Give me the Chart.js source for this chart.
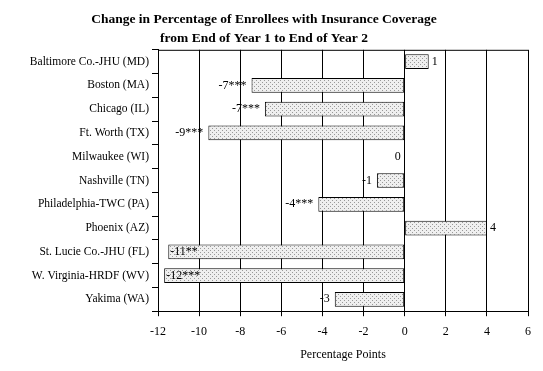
<!DOCTYPE html>
<html><head><meta charset="utf-8">
<script src="https://cdn.jsdelivr.net/npm/chart.js@4"></script>
<style>html,body{margin:0;padding:0;background:#fff}#wrap{width:543px;height:371px}</style>
</head><body><div id="wrap"><canvas id="c" width="543" height="371"></canvas></div>
<script>
const categories = ["Baltimore Co.-JHU (MD)","Boston (MA)","Chicago (IL)","Ft. Worth (TX)","Milwaukee (WI)","Nashville (TN)","Philadelphia-TWC (PA)","Phoenix (AZ)","St. Lucie Co.-JHU (FL)","W. Virginia-HRDF (WV)","Yakima (WA)"];
const values = [1.17, -7.45, -6.8, -9.55, 0, -1.35, -4.2, 4.0, -11.5, -11.7, -3.4];
const valueLabels = ["1","-7***","-7***","-9***","0","-1","-4***","4","-11**","-12***","-3"];
const xTicks = [-12,-10,-8,-6,-4,-2,0,2,4,6];

const FONT = "'Liberation Serif', 'Times New Roman', serif";
const pc = document.createElement('canvas'); pc.width = 4; pc.height = 4;
const pctx = pc.getContext('2d');
pctx.fillStyle = '#efefef'; pctx.fillRect(0,0,4,4);
pctx.fillStyle = '#999999'; pctx.fillRect(0,0,1,1); pctx.fillRect(2,2,1,1);
const pattern = document.getElementById('c').getContext('2d').createPattern(pc,'repeat');

const labelPlugin = {
  id:'valLabels',
  afterDatasetsDraw(chart){
    const ctx = chart.ctx; const meta = chart.getDatasetMeta(0);
    const xs = chart.scales.x;
    ctx.save(); ctx.font = '12px ' + FONT; ctx.fillStyle = '#000'; ctx.textBaseline = 'middle';
    meta.data.forEach((bar,i)=>{
      const v = values[i]; const t = valueLabels[i];
      if (v > 0) { ctx.textAlign='left'; ctx.fillText(t, bar.x + 3, bar.y); }
      else if (v === 0) { ctx.textAlign='right'; ctx.fillText(t, xs.getPixelForValue(0) - 4, bar.y); }
      else if (v < -11) { ctx.textAlign='left'; ctx.fillText(t, bar.x + 2, bar.y); }
      else { ctx.textAlign='right'; ctx.fillText(t, bar.x - 5, bar.y); }
    });
    ctx.restore();
  },
  afterDraw(chart){
    const a = chart.chartArea, ctx = chart.ctx;
    ctx.save(); ctx.strokeStyle='#000'; ctx.lineWidth=1;
    ctx.beginPath(); ctx.moveTo(a.left, a.top+0.5); ctx.lineTo(a.right, a.top+0.5); ctx.stroke();
    ctx.restore();
  }
};

new Chart(document.getElementById('c'), {
  type:'bar',
  data:{ labels:categories, datasets:[{ data:values, backgroundColor:pattern, borderColor:'#000', borderWidth:1, borderSkipped:false, barPercentage:0.62, categoryPercentage:1 }]},
  options:{
    indexAxis:'y', responsive:false, animation:false, devicePixelRatio:1,
    layout:{ padding:{ left:0, right:15, top:0, bottom:5 } },
    plugins:{
      legend:{display:false}, tooltip:{enabled:false},
      title:{ display:true, text:["Change in Percentage of Enrollees with Insurance Coverage","from End of Year 1 to End of Year 2"], font:{family:FONT, size:13.5, weight:'bold', lineHeight:1.4}, color:'#000', padding:{top:10,bottom:2} }
    },
    scales:{
      x:{ min:-12, max:6, afterBuildTicks(s){ s.ticks = xTicks.map(v=>({value:v})); },
          grid:{ color:'#000', lineWidth:1, tickLength:5, drawTicks:true },
          border:{ color:'#000', width:1 },
          ticks:{ color:'#000', font:{family:FONT,size:12}, padding:8, callback:(v)=>String(v) },
          title:{ display:true, text:'Percentage Points', color:'#000', font:{family:FONT,size:12}, padding:{top:1} } },
      y:{ grid:{ drawOnChartArea:false, color:'#000', tickLength:6, offset:true }, border:{color:'#000',width:1},
          ticks:{ color:'#000', font:{family:FONT,size:11.5}, padding:3 },
          afterFit(s){ s.width = 158; } }
    }
  },
  plugins:[labelPlugin]
});
</script></body></html>
